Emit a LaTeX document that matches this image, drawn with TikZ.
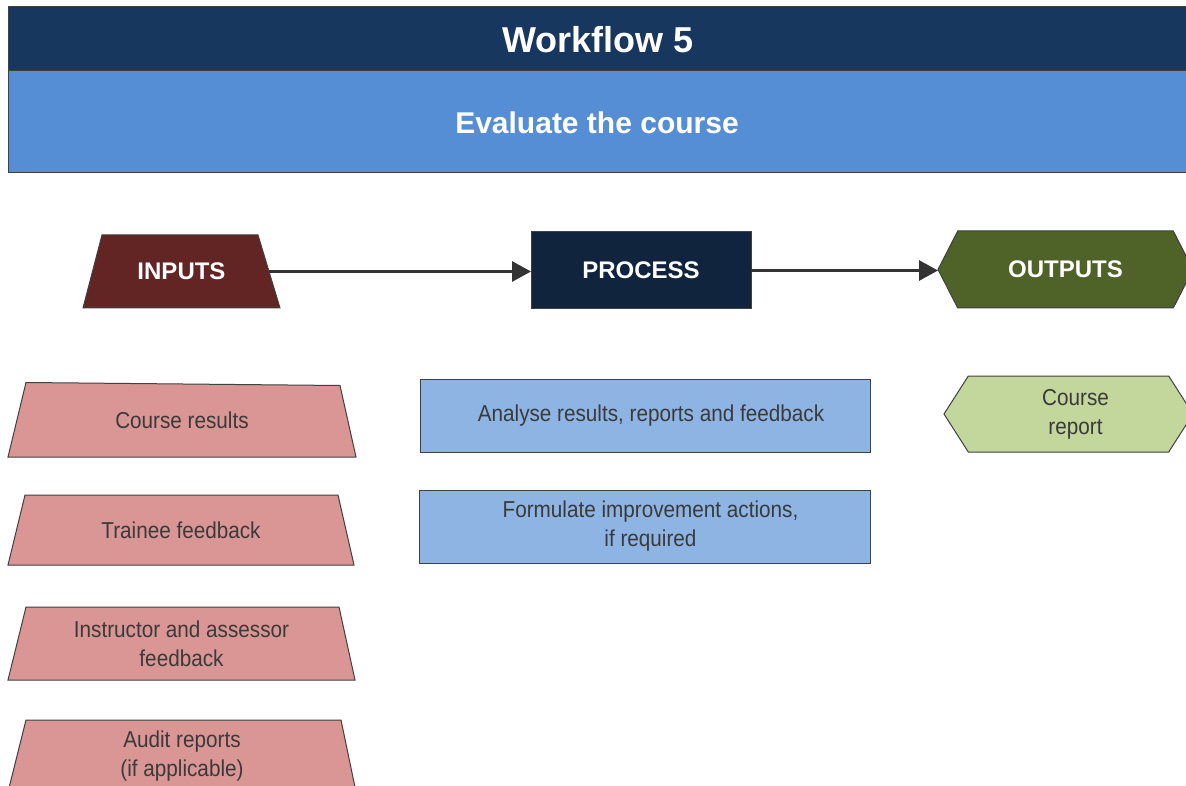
\documentclass[tikz,border=0pt]{standalone}
\usepackage{fontspec}
\setmainfont{Liberation Sans}
\newfontfamily\bodyfont[FakeStretch=0.9]{Liberation Sans}
\usetikzlibrary{shapes.geometric,shapes.symbols,arrows.meta,calc,backgrounds}
\definecolor{hdark}{HTML}{17375E}
\definecolor{hlight}{HTML}{558ED5}
\definecolor{inred}{HTML}{632523}
\definecolor{procnavy}{HTML}{10243E}
\definecolor{outgreen}{HTML}{4F6228}
\definecolor{pinkfill}{HTML}{D99694}
\definecolor{bluefill}{HTML}{8EB4E3}
\definecolor{greenfill}{HTML}{C3D69B}
\definecolor{arrowgray}{HTML}{333333}
\definecolor{edgegray}{HTML}{404040}
\definecolor{txtgray}{HTML}{3A3A3A}
\begin{document}
\begin{tikzpicture}[x=1pt,y=-1pt,
  hdr/.style={draw=edgegray,line width=1pt,inner sep=0pt,outer sep=0pt},
  headtxt/.style={text=white,font=\bfseries\fontsize{24}{28}\selectfont,inner sep=0pt,outer sep=0pt},
  tbox/.style={rectangle,inner sep=0pt,outer sep=0pt},
  trapline/.style={draw=edgegray,line width=1pt,line join=miter},
  hexa/.style={signal,signal to=east and west,draw=edgegray,line width=1pt,inner sep=0pt,outer sep=0pt},
  boxed/.style={rectangle,draw=edgegray,line width=1pt,inner sep=0pt,outer sep=0pt},
  body/.style={text=txtgray,font=\bodyfont\fontsize{23}{29}\selectfont,align=center},
  conn/.style={draw=arrowgray,line width=3pt,-{Triangle[length=19pt,width=20pt]}}
]
\useasboundingbox (0,0) rectangle (1186,786);
% header
\node[hdr,fill=hdark,minimum width=1190pt,minimum height=64pt,anchor=north west] (titlebar) at (8,7) {};
\node[hdr,fill=hlight,minimum width=1190pt,minimum height=102pt,anchor=north west] (subbar) at (8,71) {};
\node[text=white,font=\bfseries\fontsize{36}{40}\selectfont] (title) at (598,40) {Workflow 5};
\node[text=white,font=\bfseries\fontsize{30}{34}\selectfont] (subtitle) at (597,123) {Evaluate the course};
% top row
\node[tbox,minimum width=197pt,minimum height=73pt,headtxt] (inputs) at (181.5,271.5) {INPUTS};
\node[boxed,fill=procnavy,minimum width=220pt,minimum height=77pt,headtxt] (process) at (641,270.5) {PROCESS};
\node[hexa,fill=outgreen,minimum width=255pt,minimum height=77pt,signal pointer angle=125.7,headtxt] (outputs) at (1065.5,269.5) {OUTPUTS};
\draw[conn] ($(inputs.east)+(-11,0)$) -- (inputs.east -| process.west);
\draw[conn] (process.east) -- (process.east -| outputs.west);
% inputs
\node[tbox,minimum width=348pt,minimum height=73pt,body] (in1) at (182,420.5) {Course results};
\node[tbox,minimum width=346pt,minimum height=70pt,body] (in2) at (181,530) {Trainee feedback};
\node[tbox,minimum width=347pt,minimum height=73pt,body] (in3) at (181.5,643.5) {Instructor and assessor\\feedback};
\node[tbox,minimum width=348pt,minimum height=72pt,body] (in4) at (182,756) {Audit reports\\(if applicable)};
\begin{scope}[on background layer]
  \fill[white] (0,0) rectangle (1186,786);
  \path[trapline,fill=inred] (inputs.south west) -- ($(inputs.north west)+(19,0)$) -- ($(inputs.north east)+(-22,0)$) -- (inputs.south east) -- cycle;
  \path[trapline,fill=pinkfill] (in1.south west) -- ($(in1.north west)+(18,-1.5)$) -- ($(in1.north east)+(-16,1.5)$) -- (in1.south east) -- cycle;
  \path[trapline,fill=pinkfill] (in2.south west) -- ($(in2.north west)+(17,0)$) -- ($(in2.north east)+(-16,0)$) -- (in2.south east) -- cycle;
  \path[trapline,fill=pinkfill] (in3.south west) -- ($(in3.north west)+(18,0)$) -- ($(in3.north east)+(-16,0)$) -- (in3.south east) -- cycle;
  \path[trapline,fill=pinkfill] (in4.south west) -- ($(in4.north west)+(18,0)$) -- ($(in4.north east)+(-15,0)$) -- (in4.south east) -- cycle;
\end{scope}
% process
\node[boxed,fill=bluefill,minimum width=450pt,minimum height=73pt,body] (p1) at (645,415.5) {\hspace*{12pt}Analyse results, reports and feedback};
\node[boxed,fill=bluefill,minimum width=451pt,minimum height=73pt,body] (p2) at (644.5,526.5) {\hspace*{12pt}Formulate improvement actions,\\\hspace*{12pt}if required};
% outputs
\node[hexa,fill=greenfill,minimum width=249pt,minimum height=76pt,signal pointer angle=114.8,body] (o1) at (1068.5,414) {\hspace*{14pt}Course\\\hspace*{14pt}report};
\end{tikzpicture}
\end{document}
